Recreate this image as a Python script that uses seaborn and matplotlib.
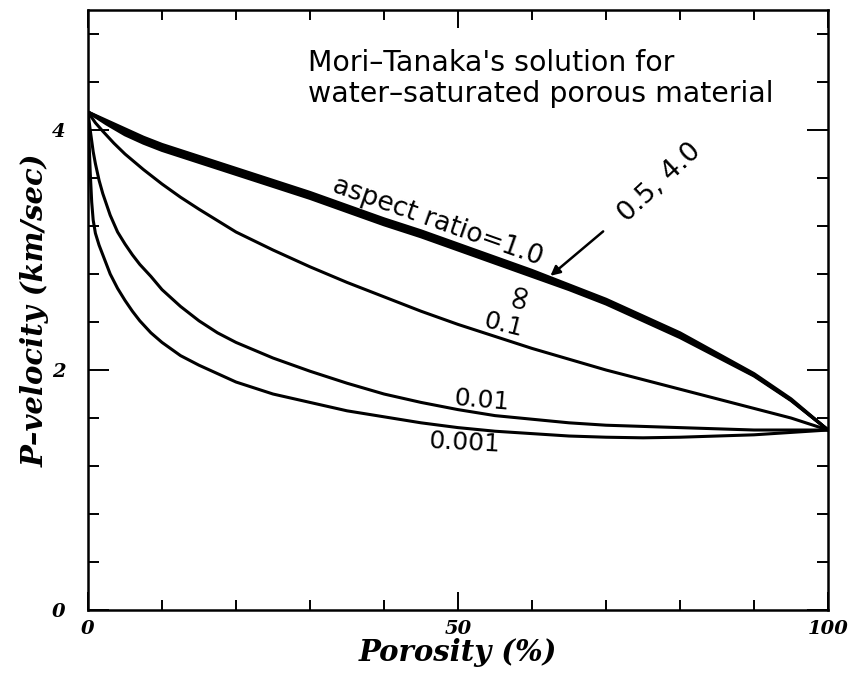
import numpy as np
import pandas as pd
import matplotlib
matplotlib.use("Agg")
import matplotlib.pyplot as plt
import seaborn as sns

# ---- data ----
x_top = [0, 2.5, 5, 7.5, 10, 15, 20, 25, 30, 35, 40, 45, 50, 55, 60, 65, 70, 75, 80, 85, 90, 95, 100]
v_ar1 = [4.15, 4.08, 4.01, 3.94, 3.88, 3.78, 3.68, 3.58, 3.48, 3.37, 3.26, 3.16, 3.05, 2.94, 2.83, 2.71, 2.59, 2.45, 2.31, 2.14, 1.97, 1.76, 1.50]
v_ar05 = [4.15, 4.07, 3.99, 3.92, 3.86, 3.76, 3.66, 3.56, 3.46, 3.35, 3.24, 3.14, 3.03, 2.92, 2.81, 2.69, 2.57, 2.43, 2.29, 2.13, 1.96, 1.75, 1.50]
v_ar4 = [4.15, 4.06, 3.98, 3.91, 3.85, 3.745, 3.645, 3.545, 3.445, 3.335, 3.225, 3.125, 3.015, 2.905, 2.795, 2.68, 2.56, 2.42, 2.28, 2.12, 1.955, 1.75, 1.50]
v_inf = [4.15, 4.05, 3.96, 3.89, 3.83, 3.73, 3.63, 3.53, 3.43, 3.32, 3.21, 3.11, 3.00, 2.89, 2.78, 2.67, 2.55, 2.41, 2.27, 2.11, 1.95, 1.745, 1.50]

x_01 = [0, 1, 2, 3.5, 5, 7.5, 10, 12.5, 15, 20, 25, 30, 35, 40, 45, 50, 55, 60, 65, 70, 75, 80, 85, 90, 95, 100]
v_01 = [4.15, 4.06, 3.99, 3.89, 3.80, 3.67, 3.55, 3.44, 3.34, 3.15, 3.00, 2.86, 2.73, 2.61, 2.49, 2.38, 2.28, 2.18, 2.09, 2.00, 1.92, 1.84, 1.76, 1.68, 1.60, 1.50]

x_001 = [0, 0.3, 0.7, 1, 1.5, 2, 3, 4, 5, 6, 7, 8.5, 10, 12.5, 15, 17.5, 20, 25, 30, 35, 40, 45, 50, 55, 60, 65, 70, 75, 80, 85, 90, 95, 100]
v_001 = [4.15, 4.00, 3.82, 3.72, 3.58, 3.47, 3.29, 3.15, 3.05, 2.96, 2.88, 2.78, 2.67, 2.53, 2.41, 2.31, 2.23, 2.10, 1.99, 1.89, 1.80, 1.73, 1.67, 1.62, 1.59, 1.56, 1.54, 1.53, 1.52, 1.51, 1.50, 1.50, 1.50]

x_0001 = [0, 0.15, 0.3, 0.5, 0.7, 1, 1.5, 2, 3, 4, 5, 6, 7, 8.5, 10, 12.5, 15, 17.5, 20, 25, 30, 35, 40, 45, 50, 55, 60, 65, 70, 75, 80, 85, 90, 95, 100]
v_0001 = [4.15, 3.90, 3.65, 3.40, 3.25, 3.14, 3.04, 2.96, 2.80, 2.68, 2.58, 2.49, 2.41, 2.31, 2.23, 2.12, 2.04, 1.97, 1.90, 1.80, 1.73, 1.66, 1.61, 1.56, 1.52, 1.49, 1.47, 1.45, 1.44, 1.435, 1.44, 1.45, 1.46, 1.48, 1.50]

x_ticks = [0, 50, 100]
y_ticks = [0, 2, 4]

frames = []
for name, xs, vs in [("1.0", x_top, v_ar1), ("0.5", x_top, v_ar05), ("4.0", x_top, v_ar4),
                     ("inf", x_top, v_inf), ("0.1", x_01, v_01), ("0.01", x_001, v_001),
                     ("0.001", x_0001, v_0001)]:
    frames.append(pd.DataFrame({"porosity": xs, "velocity": vs, "aspect": name}))
df = pd.concat(frames, ignore_index=True)

sns.set_style("ticks")
fig = plt.figure(figsize=(8.51, 6.76), dpi=100)
ax = fig.add_axes([0.1034, 0.0976, 0.8696, 0.8876])

order = ["1.0", "0.5", "4.0", "inf", "0.1", "0.01", "0.001"]
sns.lineplot(data=df, x="porosity", y="velocity", hue="aspect", hue_order=order,
             palette=["black"] * len(order), linewidth=2.2, legend=False, ax=ax,
             estimator=None, sort=False)

ax.set_xlim(0, 100)
ax.set_ylim(0, 5)
ax.set_xticks(x_ticks)
ax.set_yticks(y_ticks)
ax.set_xticks(np.arange(0, 101, 10), minor=True)
ax.set_yticks(np.arange(0, 5.01, 0.4), minor=True)
ax.tick_params(which="both", direction="in", top=True, right=True, width=1.4, colors="black")
ax.tick_params(axis="x", which="major", length=13, pad=7)
ax.tick_params(axis="x", which="minor", length=7)
ax.tick_params(axis="y", which="major", length=15, pad=16)
ax.tick_params(axis="y", which="minor", length=8)
for s in ax.spines.values():
    s.set_linewidth(1.8)
    s.set_color("black")

tfont = dict(family="DejaVu Serif", weight="bold", style="italic", color="black")
for lab in ax.get_xticklabels() + ax.get_yticklabels():
    lab.set_fontfamily("DejaVu Serif")
    lab.set_fontweight("bold")
    lab.set_fontstyle("italic")
    lab.set_fontsize(14)

ax.set_xlabel("Porosity (%)", fontsize=21, labelpad=0, **tfont)
ax.set_ylabel("P\u2013velocity (km/sec)", fontsize=21, labelpad=2, **tfont)

# annotations
afont = dict(family="DejaVu Sans", color="black")
ax.text(29.7, 4.43, "Mori\u2013Tanaka's solution for\nwater\u2013saturated porous material",
        fontsize=20.4, ha="left", va="center", linespacing=1.1, **afont)
ax.text(47.2, 3.24, "aspect ratio=1.0", fontsize=19, rotation=-19.5, ha="center", va="center",
        rotation_mode="anchor", **afont)
ax.text(77.3, 3.56, "0.5, 4.0", fontsize=19.5, rotation=43, ha="center", va="center",
        rotation_mode="anchor", **afont)
ax.annotate("", xy=(62.2, 2.77), xytext=(69.9, 3.17),
            arrowprops=dict(arrowstyle="-|>", color="black", lw=1.8, mutation_scale=14))
ax.text(58.1, 2.63, "\u221e", fontsize=25, rotation=78, ha="center", va="center",
        rotation_mode="anchor", **afont)
ax.text(56.1, 2.375, "0.1", fontsize=18, rotation=-14, ha="center", va="center",
        rotation_mode="anchor", **afont)
ax.text(53.2, 1.75, "0.01", fontsize=18, rotation=-5, ha="center", va="center",
        rotation_mode="anchor", **afont)
ax.text(50.9, 1.39, "0.001", fontsize=18, rotation=-3, ha="center", va="center",
        rotation_mode="anchor", **afont)

fig.savefig("out.png", dpi=100, facecolor="white")
